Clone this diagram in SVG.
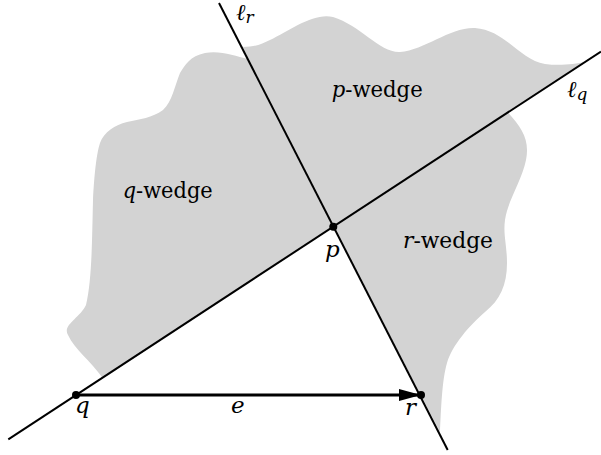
<svg xmlns="http://www.w3.org/2000/svg" width="601" height="455" viewBox="0 0 601 455">
<style>
  .region { fill: #d3d3d3; stroke: none; }
  .line { stroke: #000; stroke-width: 2; fill: none; }
  .edge { stroke: #000; stroke-width: 3; fill: none; }
  .dot { fill: #000; }
  .t { font-family: 'DejaVu Serif', 'Liberation Serif', 'Noto Serif', serif; font-size: 23px; fill: #000; }
  .m { font-style: italic; }
  .sub { font-style: italic; font-size: 17px; }
</style>
<defs>
  <marker id="arrow" markerUnits="userSpaceOnUse" markerWidth="24" markerHeight="14" refX="22" refY="7" orient="auto">
    <path d="M0,1 L22,7 L0,13 Z" fill="#000"/>
  </marker>
</defs>
<g id="wedges">
  <path class="region" d="M103,378.5 L333.3,226.7 L440,432
    C441,410 442,380 447,363
    C452,345 470,325 485,312
    C500,300 507,285 507,263
    C507,245 503,235 505,220
    C508,200 522,180 526,160
    C530,140 522,128 508,112.5
    L585,62
    C575,64 560,66 545,64
    C520,60 505,30 475,28
    C450,27 425,50 400,52
    C380,53 360,25 333,17
    C315,12 290,30 270,40
    C262,44 255,47 243,47
    L248,59
    C235,56 220,50 205,53
    C190,56 185,65 180,73
    C175,85 172,102 163,110
    C152,118 140,119 127,122
    C115,125 104,132 100,143
    C96,155 94,180 93,200
    C92,240 92,280 86,305
    C80,318 62,325 68,335
    C75,350 90,360 103,378.5 Z"/>
  <text class="t" x="331.7" y="96.7" textLength="91" lengthAdjust="spacingAndGlyphs"><tspan class="m">p</tspan>-wedge</text>
  <text class="t" x="122.7" y="198.3" textLength="90" lengthAdjust="spacingAndGlyphs"><tspan class="m">q</tspan>-wedge</text>
  <text class="t" x="403" y="248.3" textLength="90" lengthAdjust="spacingAndGlyphs"><tspan class="m">r</tspan>-wedge</text>
</g>
<g id="connectors">
  <g id="line-lq">
    <line class="line" x1="8.3" y1="439.3" x2="601" y2="51.5"/>
    <text class="t" x="567" y="96.7"><tspan class="m">ℓ</tspan><tspan class="sub" dy="3">q</tspan></text>
  </g>
  <g id="line-lr">
    <line class="line" x1="219" y1="3" x2="447.7" y2="450"/>
    <text class="t" x="236" y="20" font-size="21"><tspan class="m">ℓ</tspan><tspan class="sub" dy="3">r</tspan></text>
  </g>
  <g id="edge-e">
    <line class="edge" x1="76" y1="395" x2="421" y2="395" marker-end="url(#arrow)"/>
    <text class="t m" x="231" y="413">e</text>
  </g>
</g>
<g id="node-p">
  <circle class="dot" cx="333.3" cy="226.7" r="4"/>
  <text class="t m" x="325" y="256.5">p</text>
</g>
<g id="node-q">
  <circle class="dot" cx="76" cy="395" r="4"/>
  <text class="t m" x="75" y="413">q</text>
</g>
<g id="node-r">
  <circle class="dot" cx="421" cy="395" r="4"/>
  <text class="t m" x="405" y="415">r</text>
</g>
</svg>
